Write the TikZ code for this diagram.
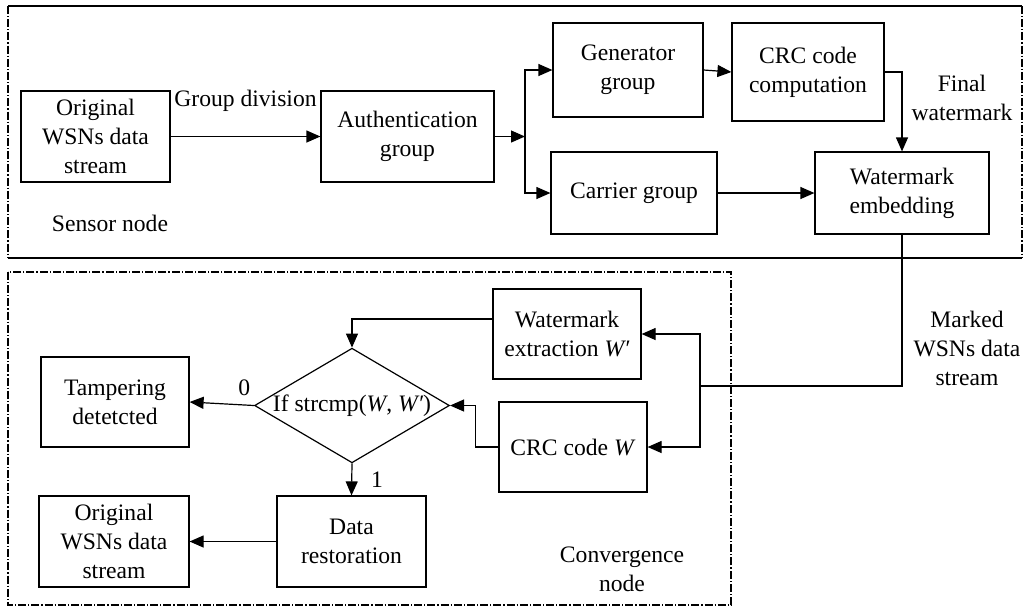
\documentclass[tikz,border=0pt]{standalone}
\usepackage{fontspec}
\setmainfont{Liberation Serif}
\usetikzlibrary{positioning, arrows.meta, shapes.geometric}

\begin{document}
\begin{tikzpicture}[x=0.5pt, y=-0.5pt, font=\fontsize{11.8pt}{14.5pt}\selectfont,
      kotak/.style={draw, line width=0.6pt, align=center, inner sep=2pt},
      garis/.style={line width=0.6pt},
      titik/.style={dash pattern=on 4pt off 1pt on 0.6pt off 1pt},
      panah/.style={-{Triangle[length=7pt, width=6pt]}, line width=0.6pt}]
      \useasboundingbox (0,0) rectangle (1028,607);

      % frames
      \draw[garis] (8,6) -- (1022,6);
      \draw[garis] (8,258) -- (1022,258);
      \draw[garis, titik] (8,6) -- (8,258);
      \draw[garis, titik] (1022,6) -- (1022,258);
      \draw[garis, titik] (8,272) rectangle (731,605);

      % sensor node
      \node[kotak, minimum width=74.5pt, minimum height=45.5pt] (asli) at (95.5,136.5) {Original\\ WSNs data\\ stream};
      \node[kotak, minimum width=86.5pt, minimum height=45.5pt] (auth) at (407.5,136.5) {Authentication\\ group};
      \node[kotak, minimum width=75pt, minimum height=47pt] (gen) at (628,70) {Generator\\ group};
      \node[kotak, minimum width=76pt, minimum height=49pt] (crc) at (808,72) {CRC code\\ computation};
      \node[kotak, minimum width=83pt, minimum height=41pt] (carrier) at (634,193) {Carrier group};
      \node[kotak, minimum width=87pt, minimum height=41pt] (embed) at (902,193) {Watermark\\ embedding};
      \node[align=center] (finalwm) at (962,98) {Final\\ watermark};
      \node (sensor) at (110,223) {Sensor node};
      \coordinate (split) at (525,136.5);

      \draw[panah] (asli) -- node[above=9pt] (grp) {Group division} (auth);
      \draw[panah] (auth) -- (split);
      \draw[panah] (split) |- (gen.west);
      \draw[panah] (split) |- (carrier.west);
      \draw[panah] (gen.east) -- (crc.west);
      \draw[panah] (crc.east) -| (embed.north);
      \draw[panah] (carrier) -- (embed);

      % convergence node
      \node[kotak, minimum width=74pt, minimum height=45pt] (ekstrak) at (567,334) {Watermark\\ extraction \textit{W′}};
      \node[kotak, minimum width=74pt, minimum height=45pt] (crcw) at (573,447) {CRC code \textit{W}};
      \node[draw, line width=0.6pt, diamond, aspect=1.7, inner sep=0pt, minimum width=94.5pt, minimum height=56.5pt] (cek) at (352,405.5) {If strcmp(\textit{W}, \textit{W′})};
      \node[kotak, minimum width=74pt, minimum height=45pt] (tamper) at (115,402) {Tampering\\ detetcted};
      \node[kotak, minimum width=74.5pt, minimum height=45.5pt] (pulih) at (351.5,541.5) {Data\\ restoration};
      \node[kotak, minimum width=75pt, minimum height=45.5pt] (asli2) at (114,541.5) {Original\\ WSNs data\\ stream};
      \node[align=center] (marked) at (967,348) {Marked\\ WSNs data\\ stream};
      \node[align=center] (conv) at (622,569) {Convergence\\ node};
      \coordinate (turun) at (902,386);
      \coordinate (cabang) at (700,386);

      \draw[garis] (embed.south) -- (turun) -- (cabang);
      \draw[panah] (cabang) |- (ekstrak.east);
      \draw[panah] (cabang) |- (crcw.east);
      \draw[panah] ([yshift=7.5pt]ekstrak.west) -| (cek.north);
      \draw[panah] (crcw.west) -- ++(-23,0) |- (cek.east);
      \draw[panah] (cek.west) -- node[above=1pt, pos=0.15] (nol) {0} (tamper.east);
      \draw[panah] (cek.south) -- node[right=6pt] (satu) {1} (pulih.north);
      \draw[panah] (pulih) -- (asli2);
    \end{tikzpicture}
\end{document}
